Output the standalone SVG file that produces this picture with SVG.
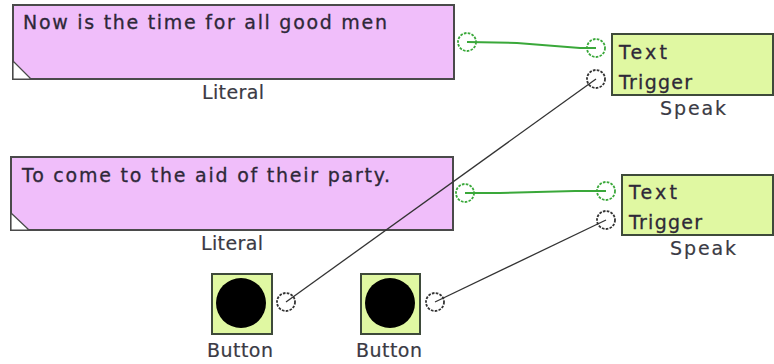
<svg xmlns="http://www.w3.org/2000/svg" width="774" height="364" viewBox="0 0 774 364">
<style>
.lit{fill:#f0befa;stroke:#4a4a4a;stroke-width:2}
.grn{fill:#e0f8a2;stroke:#3e4a3a;stroke-width:2}
.t{font-family:"DejaVu Sans",Verdana,sans-serif;font-size:19px;fill:#2e2838;stroke:#2e2838;stroke-width:0.3}
.lbl{font-family:"DejaVu Sans",Verdana,sans-serif;font-size:19px;fill:#3a3a44;text-anchor:middle;stroke:#3a3a44;stroke-width:0.2}
.pg{fill:none;stroke:#3aa83a;stroke-width:1.8;stroke-dasharray:2.6 1.3}
.pk{fill:none;stroke:#333;stroke-width:1.8;stroke-dasharray:2.6 1.3}
.wg{fill:none;stroke:#3aa83a;stroke-width:2}
.wk{fill:none;stroke:#333;stroke-width:1.3}
</style>
<g id="literal1">
<rect class="lit" x="13" y="5" width="441" height="74"/>
<polygon points="13,61 13,79 31,79" fill="#fff" stroke="#4a4a4a" stroke-width="1.2"/>
<text class="t" x="23" y="29" textLength="364" lengthAdjust="spacing">Now is the time for all good men</text>
<text class="lbl" x="233" y="99" textLength="62" lengthAdjust="spacing">Literal</text>
</g>
<g id="literal2">
<rect class="lit" x="11" y="157" width="442" height="73"/>
<polygon points="11,213 11,230 29,230" fill="#fff" stroke="#4a4a4a" stroke-width="1.2"/>
<text class="t" x="22" y="182" textLength="368" lengthAdjust="spacing">To come to the aid of their party.</text>
<text class="lbl" x="232" y="250" textLength="62" lengthAdjust="spacing">Literal</text>
</g>
<g id="speak1">
<rect class="grn" x="612" y="34" width="161" height="61"/>
<text class="t" x="619" y="59" textLength="48" lengthAdjust="spacing" fill="#2e3020">Text</text>
<text class="t" x="619" y="89" textLength="73" lengthAdjust="spacing" fill="#2e3020">Trigger</text>
<text class="lbl" x="693" y="115" textLength="66" lengthAdjust="spacing">Speak</text>
</g>
<g id="speak2">
<rect class="grn" x="622" y="175" width="151" height="60"/>
<text class="t" x="629" y="199" textLength="48" lengthAdjust="spacing" fill="#2e3020">Text</text>
<text class="t" x="629" y="229" textLength="73" lengthAdjust="spacing" fill="#2e3020">Trigger</text>
<text class="lbl" x="703" y="255" textLength="66" lengthAdjust="spacing">Speak</text>
</g>
<g id="button1">
<rect class="grn" x="212" y="274" width="60" height="60"/>
<circle cx="241" cy="303" r="25" fill="#000"/>
<text class="lbl" x="240" y="357" textLength="66" lengthAdjust="spacing">Button</text>
</g>
<g id="button2">
<rect class="grn" x="361" y="274" width="59" height="60"/>
<circle cx="390" cy="303" r="25" fill="#000"/>
<text class="lbl" x="389" y="357" textLength="66" lengthAdjust="spacing">Button</text>
</g>
<g id="connectors">
<polyline class="wg" points="467,42 517,43 580,48 596,48"/>
<polyline class="wg" points="465,193 500,193 575,191 606,191"/>
<line class="wk" x1="286" y1="302" x2="596" y2="79"/>
<line class="wk" x1="435" y1="302" x2="606" y2="220"/>
<circle class="pg" cx="467" cy="42" r="9"/>
<circle class="pg" cx="596" cy="48" r="9"/>
<circle class="pk" cx="596" cy="79" r="9"/>
<circle class="pg" cx="465" cy="193" r="9"/>
<circle class="pg" cx="606" cy="191" r="9"/>
<circle class="pk" cx="606" cy="220" r="9"/>
<circle class="pk" cx="286" cy="302" r="9"/>
<circle class="pk" cx="435" cy="302" r="9"/>
</g>
</svg>
